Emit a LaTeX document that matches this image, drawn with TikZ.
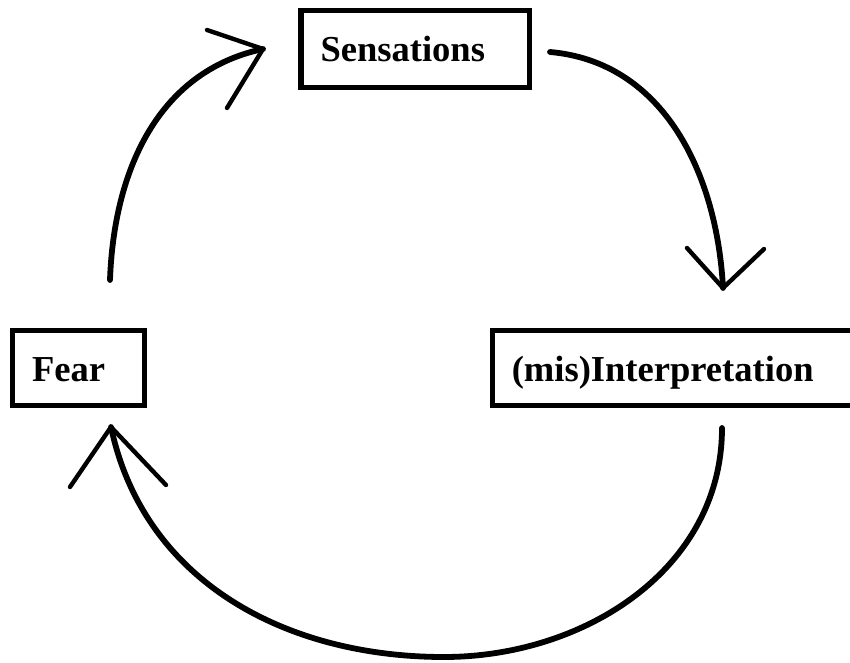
\documentclass[tikz,border=0pt]{standalone}
\usepackage{fontspec}
\setmainfont{Liberation Serif}
\usetikzlibrary{positioning}

\begin{document}
\begin{tikzpicture}[
		box/.style = {draw, line width=2.85pt, rectangle, align=left, inner xsep=0.39cm, inner ysep=0pt,
			text height=0.52cm, text depth=0cm, font=\fontsize{20.8}{25}\selectfont\bfseries},
		cycle/.style = {line width=3.3pt, line cap=round, line join=round},
		barb/.style = {line width=2.5pt, line cap=round}]
		\useasboundingbox (0,0) rectangle (17,13.24);
		\clip (0,0) rectangle (17,13.24);
		% the three stages
		\node[box, text width=3.78cm, minimum height=1.54cm] (sensations) at (8.30,12.26) {Sensations};
		\node[box, text width=1.86cm, minimum height=1.50cm] (fear) at (1.57,5.88) {Fear};
		\node[box, text width=6.57cm, minimum height=1.50cm] (interp) at (13.52,5.88) {(mis)Interpretation};
		% ends of the arcs
		\coordinate (fearUp) at (2.20,7.64);
		\coordinate (sensIn) at (5.26,12.26);
		\coordinate (sensOut) at (11.00,12.20);
		\coordinate (interpIn) at (14.46,7.48);
		\coordinate (interpOut) at (14.44,4.68);
		\coordinate (bottom) at (8.88,0.10);
		\coordinate (fearIn) at (2.22,4.70);
		% arcs
		\draw[cycle] (fearUp) to[out=88,in=192] (sensIn);
		\draw[cycle] (sensOut) to[out=-5,in=93] (interpIn);
		\draw[cycle] (interpOut) to[out=-90,in=0] (bottom) to[out=180,in=-78] (fearIn);
		% open heads
		\draw[barb] (sensIn) -- ++(-1.12,0.38);
		\draw[barb] (sensIn) -- ++(-0.72,-1.18);
		\draw[barb] (interpIn) -- ++(-0.72,0.80);
		\draw[barb] (interpIn) -- ++(0.82,0.78);
		\draw[barb] (fearIn) -- ++(-0.82,-1.20);
		\draw[barb] (fearIn) -- ++(1.10,-1.16);
	\end{tikzpicture}
\end{document}
